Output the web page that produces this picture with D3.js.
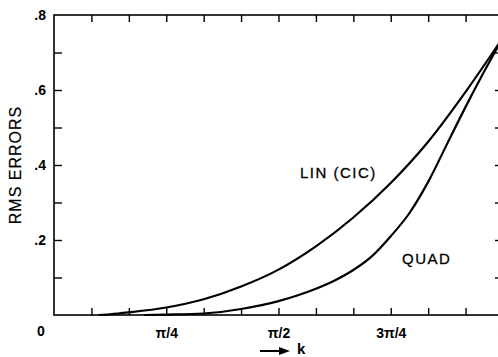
<!DOCTYPE html>
<html>
<head>
<meta charset="utf-8">
<script src="https://cdn.jsdelivr.net/npm/d3@7"></script>
<style>
  body { margin: 0; background: #fff; }
  svg { display: block; font-family: "Liberation Sans", Arial, Helvetica, sans-serif; }
</style>
</head>
<body>
<div id="chart"></div>
<script>
// k values are given in units of pi
const kLin = [0.1, 0.125, 0.1667, 0.25, 0.3333, 0.4167, 0.5, 0.5833, 0.6667, 0.75, 0.8333, 0.9167, 1.0];
const rmsLin = [0, 0.002, 0.007, 0.02, 0.042, 0.076, 0.121, 0.183, 0.26, 0.352, 0.462, 0.595, 0.74];

const kQuad = [0.2, 0.25, 0.3333, 0.4167, 0.5, 0.5417, 0.5833, 0.625, 0.6667, 0.7083, 0.75, 0.7917, 0.8333, 0.875, 0.9167, 0.9583, 1.0];
const rmsQuad = [0, 0.001, 0.004, 0.016, 0.037, 0.052, 0.07, 0.092, 0.12, 0.157, 0.21, 0.272, 0.355, 0.455, 0.555, 0.65, 0.74];

const xTickFracs = [0.25, 0.5, 0.75, 1.0];
const xTickLabels = ["\u03c0/4", "\u03c0/2", "3\u03c0/4", "\u03c0"];
const yTickValues = [0.2, 0.4, 0.6, 0.8];
const yTickLabels = [".2", ".4", ".6", ".8"];

const width = 498, height = 357;
const margin = {top: 15, bottom: 42, left: 54, right: -5};

const svg = d3.select("#chart").append("svg")
  .attr("width", width)
  .attr("height", height);

const x = d3.scaleLinear()
  .domain([0, Math.PI])
  .range([margin.left, width - margin.right]);

const y = d3.scaleLinear()
  .domain([0, 0.8])
  .range([height - margin.bottom, margin.top]);

const minorK = d3.range(1, 12).map(i => i * Math.PI / 12);
const minorY = d3.range(1, 8).map(i => i / 10);

// frame
svg.append("rect")
  .attr("x", x(0))
  .attr("y", y(0.8))
  .attr("width", x(Math.PI) - x(0))
  .attr("height", y(0) - y(0.8))
  .attr("fill", "none")
  .attr("stroke", "#000")
  .attr("stroke-width", 1.6);

function styleTicks(g) {
  g.select(".domain").remove();
  g.selectAll(".tick line").attr("stroke", "#000").attr("stroke-width", 1.4);
}

// inward ticks on all four sides
svg.append("g")
  .attr("transform", `translate(0,${y(0)})`)
  .call(d3.axisBottom(x).tickValues(minorK).tickSize(-7).tickFormat(""))
  .call(styleTicks);
svg.append("g")
  .attr("transform", `translate(0,${y(0.8)})`)
  .call(d3.axisTop(x).tickValues(minorK).tickSize(-7).tickFormat(""))
  .call(styleTicks);
svg.append("g")
  .attr("transform", `translate(${x(0)},0)`)
  .call(d3.axisLeft(y).tickValues(minorY).tickSize(-8).tickFormat(""))
  .call(styleTicks);
svg.append("g")
  .attr("transform", `translate(${x(Math.PI)},0)`)
  .call(d3.axisRight(y).tickValues(minorY).tickSize(-8).tickFormat(""))
  .call(styleTicks);

// tick labels
const xLab = svg.append("g")
  .attr("transform", `translate(0,${y(0)})`)
  .call(d3.axisBottom(x)
    .tickValues(xTickFracs.map(f => f * Math.PI))
    .tickSize(0).tickPadding(13)
    .tickFormat((d, i) => xTickLabels[i]));
xLab.select(".domain").remove();
xLab.selectAll("text")
  .attr("font-size", 14).attr("font-weight", "bold")
  .attr("font-family", "Liberation Sans, Arial, sans-serif")
  .attr("fill", "#000");

const yLab = svg.append("g")
  .attr("transform", `translate(${x(0)},0)`)
  .call(d3.axisLeft(y)
    .tickValues(yTickValues)
    .tickSize(0).tickPadding(8)
    .tickFormat((d, i) => yTickLabels[i]));
yLab.select(".domain").remove();
yLab.selectAll("text")
  .attr("font-size", 14).attr("font-weight", "bold")
  .attr("font-family", "Liberation Sans, Arial, sans-serif")
  .attr("fill", "#000");

// corner zero
svg.append("text")
  .attr("x", x(0) - 13)
  .attr("y", y(0) + 21)
  .attr("text-anchor", "middle")
  .attr("font-size", 14).attr("font-weight", "bold")
  .text("0");

// curves
const line = d3.line()
  .x(d => x(d[0] * Math.PI))
  .y(d => y(d[1]))
  .curve(d3.curveMonotoneX);

svg.append("path")
  .datum(kLin.map((k, i) => [k, rmsLin[i]]))
  .attr("d", line)
  .attr("fill", "none")
  .attr("stroke", "#000")
  .attr("stroke-width", 2.2);

svg.append("path")
  .datum(kQuad.map((k, i) => [k, rmsQuad[i]]))
  .attr("d", line)
  .attr("fill", "none")
  .attr("stroke", "#000")
  .attr("stroke-width", 2.2);

// curve labels
svg.append("text")
  .attr("x", 300).attr("y", 178)
  .attr("font-size", 15).attr("letter-spacing", 1.5)
  .attr("stroke", "#000").attr("stroke-width", 0.3)
  .text("LIN (CIC)");

svg.append("text")
  .attr("x", 402).attr("y", 264)
  .attr("font-size", 15).attr("letter-spacing", 1.5)
  .attr("stroke", "#000").attr("stroke-width", 0.3)
  .text("QUAD");

// y axis title
svg.append("text")
  .attr("transform", "translate(21,165) rotate(-90)")
  .attr("text-anchor", "middle")
  .attr("font-size", 16).attr("letter-spacing", 1)
  .attr("stroke", "#000").attr("stroke-width", 0.2)
  .text("RMS ERRORS");

// x axis title with arrow
svg.append("line")
  .attr("x1", 260).attr("y1", 351)
  .attr("x2", 281).attr("y2", 351)
  .attr("stroke", "#000").attr("stroke-width", 2);
svg.append("path")
  .attr("d", "M279,347 L290,351 L279,355 Z")
  .attr("fill", "#000");
svg.append("text")
  .attr("x", 297).attr("y", 354)
  .attr("font-size", 15).attr("font-weight", "bold")
  .text("k");
</script>
</body>
</html>
